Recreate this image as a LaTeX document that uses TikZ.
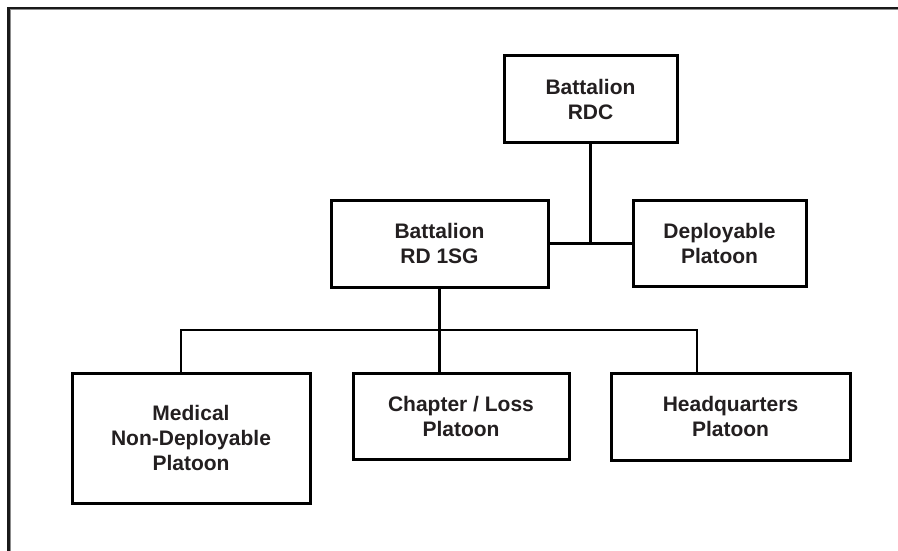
\documentclass[tikz,border=0pt]{standalone}
\usepackage{fontspec}
\setmainfont{Liberation Sans}
\definecolor{ink}{HTML}{231F20}
\begin{document}
\begin{tikzpicture}[x=1pt,y=-1pt,
  orgbox/.style={draw=black, line width=3pt, fill=white, inner sep=0pt, align=center,
    text=ink, font=\fontsize{21}{25}\selectfont\bfseries},
  link/.style={draw=black, line width=2.6pt}]
\useasboundingbox (0,0) rectangle (898,551);
% frame (top and left only)
\draw[line width=1.2pt, black!45] (10.5,9.8) -- (898,9.8);
\draw[line width=1.2pt, black!45] (10.8,9.5) -- (10.8,551);
\draw[line width=2.6pt, black!90] (898,8) -- (8.7,8) -- (8.7,551);
% boxes
\node[orgbox, minimum width=173pt, minimum height=86pt] (rdc) at (590.5,99) {Battalion\\RDC};
\node[orgbox, minimum width=217pt, minimum height=87pt] (rd1sg) at (439.5,243.5) {Battalion\\RD 1SG};
\node[orgbox, minimum width=173pt, minimum height=86pt] (dep) at (719.5,243.5) {Deployable\\Platoon};
\node[orgbox, minimum width=238pt, minimum height=130pt] (med) at (191,438) {Medical\\Non-Deployable\\Platoon};
\node[orgbox, minimum width=216pt, minimum height=86pt] (chap) at (461,416) {Chapter / Loss\\Platoon};
\node[orgbox, minimum width=239pt, minimum height=87pt] (hq) at (730.5,416.5) {Headquarters\\Platoon};
% junctions
\coordinate (jm) at (181,330);
\coordinate (jh) at (697,330);
% connectors
\draw[link] (rd1sg.east) -- (dep.west);
\draw[link] (rdc.south) -- (rdc.south |- rd1sg.east);
\draw[link] (rd1sg.south) -- (chap.north -| rd1sg.south);
\draw[link] (jm |- med.north) -- (jm) -- (jh) -- (jh |- hq.north);
\end{tikzpicture}
\end{document}
